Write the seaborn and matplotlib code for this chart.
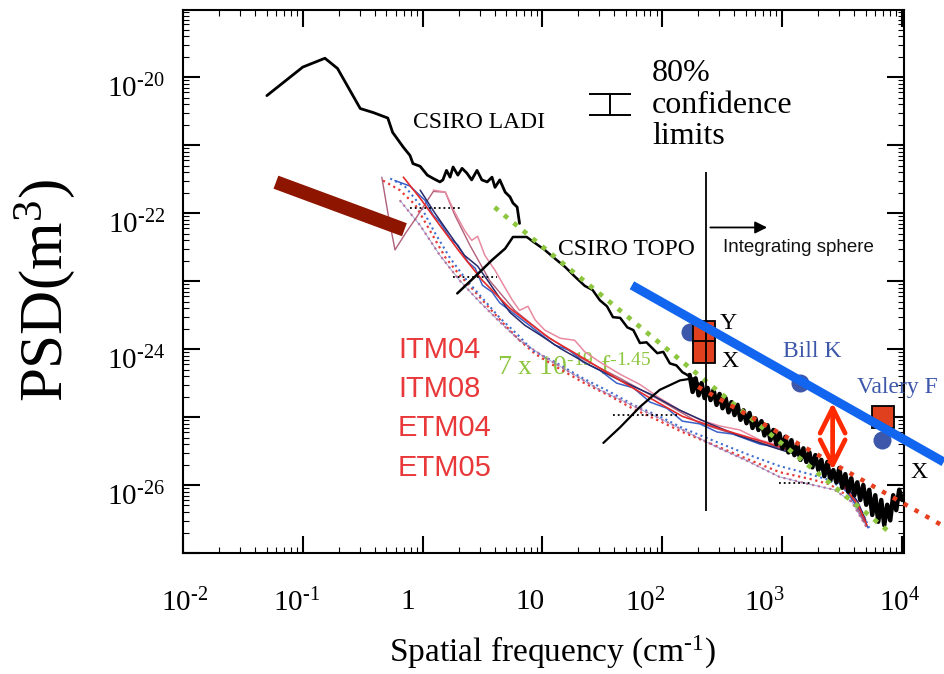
import numpy as np
import matplotlib
matplotlib.use("Agg")
import matplotlib.pyplot as plt
from matplotlib.ticker import FixedLocator, FixedFormatter, LogLocator, NullFormatter
from matplotlib.transforms import ScaledTranslation
import seaborn as sns

# ---------------------------------------------------------------------------
# Spectra, stored as log10(spatial frequency / cm^-1) and log10(PSD / m^3)
# ---------------------------------------------------------------------------
ladi_logf = [-1.30, -1.00, -0.815, -0.71, -0.52, -0.41, -0.29, -0.25, -0.16, -0.105,
             -0.08, -0.02, 0.04, 0.09, 0.145, 0.17, 0.20, 0.23, 0.255, 0.295,
             0.33, 0.37, 0.41, 0.455, 0.495, 0.54, 0.58, 0.605, 0.645, 0.69,
             0.73, 0.755, 0.79, 0.81]
ladi_logpsd = [-20.27, -19.85, -19.72, -19.87, -20.46, -20.52, -20.60, -20.81, -21.03, -21.15,
               -21.27, -21.31, -21.44, -21.49, -21.54, -21.51, -21.37, -21.47, -21.32, -21.44,
               -21.34, -21.41, -21.51, -21.37, -21.51, -21.54, -21.47, -21.62, -21.51, -21.69,
               -21.76, -21.85, -21.91, -22.15]

topo_logf = [0.29, 0.44, 0.58, 0.69, 0.755, 0.87, 0.94, 1.02, 1.10, 1.19,
             1.27, 1.355, 1.42, 1.48, 1.54, 1.59, 1.65, 1.71, 1.76, 1.815,
             1.87, 1.96, 2.01, 2.065, 2.12, 2.17, 2.23, 2.26]
topo_logpsd = [-23.18, -22.93, -22.69, -22.52, -22.35, -22.35, -22.44, -22.54, -22.66, -22.79,
               -22.93, -23.07, -23.13, -23.28, -23.37, -23.53, -23.54, -23.68, -23.72, -23.91,
               -23.90, -24.06, -24.04, -24.21, -24.24, -24.34, -24.40, -24.46]

sphere_logf = [2.23, 2.255, 2.28, 2.305, 2.33, 2.355, 2.38, 2.405, 2.43, 2.455,
               2.48, 2.505, 2.53, 2.555, 2.58, 2.605, 2.63, 2.655, 2.68, 2.705,
               2.73, 2.755, 2.78, 2.805, 2.83, 2.855, 2.88, 2.905, 2.93, 2.955,
               2.98, 3.005, 3.03, 3.055, 3.08, 3.105, 3.13, 3.155, 3.18, 3.205,
               3.23, 3.255, 3.28, 3.305, 3.33, 3.355, 3.38, 3.405, 3.43, 3.455,
               3.48, 3.505, 3.53, 3.555, 3.58, 3.605, 3.63, 3.655, 3.68, 3.705,
               3.73, 3.755, 3.78, 3.805, 3.83, 3.855, 3.88, 3.905, 3.93, 3.955,
               3.98, 4.005]
sphere_logpsd = [-24.38, -24.63, -24.43, -24.68, -24.50, -24.72, -24.57, -24.75, -24.60, -24.82,
                 -24.66, -24.87, -24.72, -24.93, -24.78, -24.97, -24.82, -25.04, -24.90, -25.09,
                 -24.94, -25.16, -25.02, -25.19, -25.06, -25.27, -25.12, -25.34, -25.19, -25.40,
                 -25.24, -25.46, -25.29, -25.52, -25.34, -25.56, -25.41, -25.63, -25.46, -25.66,
                 -25.52, -25.74, -25.56, -25.78, -25.63, -25.87, -25.66, -25.93, -25.78, -25.96,
                 -25.75, -26.04, -25.84, -26.10, -25.90, -26.15, -25.96, -26.22, -26.00, -26.29,
                 -26.07, -26.44, -26.15, -26.54, -26.22, -26.59, -26.29, -26.52, -26.15, -26.37,
                 -26.07, -26.22]

rise_logf = [1.51, 1.65, 1.815, 1.98, 2.15, 2.26, 2.315]
rise_logpsd = [-25.38, -25.15, -24.85, -24.60, -24.46, -24.43, -24.53]

# Mirror maps (ITM04, ITM08, ETM04, ETM05 scans)
mapA_logf = [-0.16, -0.02, 0.145, 0.31, 0.50, 0.73, 1.06, 1.34, 1.62, 1.90,
             2.17, 2.46, 2.82, 3.09, 3.38, 3.51, 3.635, 3.71]
mapA_logpsd = [-21.47, -21.78, -22.18, -22.57, -22.99, -23.40, -23.84, -24.13, -24.43, -24.72,
               -24.99, -25.16, -25.35, -25.50, -25.75, -26.00, -26.29, -26.59]

mapB_logf = [-0.23, -0.105, 0.02, 0.09, 0.145, 0.23, 0.295, 0.38, 0.44, 0.50,
             0.58, 0.645, 0.75, 0.855, 0.98, 1.105, 1.23, 1.34, 1.48, 1.62,
             1.76, 1.90, 2.04, 2.17, 2.315, 2.46, 2.59, 2.82, 2.98, 3.15,
             3.38, 3.53, 3.65, 3.72]
mapB_logpsd = [-21.52, -21.60, -21.81, -22.03, -22.13, -22.37, -22.47, -22.72, -22.81, -23.06,
               -23.16, -23.32, -23.46, -23.60, -23.77, -23.94, -24.02, -24.19, -24.31, -24.50,
               -24.57, -24.78, -24.87, -25.06, -25.10, -25.22, -25.25, -25.40, -25.44, -25.57,
               -25.79, -26.07, -26.37, -26.63]

mapC_logf = [0.09, 0.19, 0.27, 0.35, 0.41, 0.46, 0.52, 0.605, 0.69, 0.75,
             0.81, 0.88, 0.94, 1.02, 1.15, 1.27, 1.355, 1.48, 1.65, 1.815,
             1.98, 2.15, 2.315, 2.48, 2.65, 2.82, 3.07, 3.32, 3.485, 3.61, 3.70]
mapC_logpsd = [-21.66, -21.69, -21.99, -22.25, -22.40, -22.34, -22.62, -22.84, -23.10, -23.28,
               -23.43, -23.37, -23.57, -23.72, -23.84, -23.87, -24.04, -24.19, -24.37, -24.52,
               -24.72, -24.90, -25.04, -25.13, -25.19, -25.34, -25.46, -25.66, -25.93, -26.22, -26.52]

mapD_logf = [-0.34, -0.29, -0.23, -0.14, -0.05, 0.02, 0.09, 0.19, 0.27, 0.395,
             0.56, 0.77, 1.02, 1.31, 1.65, 1.98, 2.315, 2.65, 2.98, 3.235,
             3.44, 3.585, 3.685]
mapD_logpsd = [-21.47, -21.99, -22.54, -22.29, -22.06, -21.87, -21.68, -21.69, -22.03, -22.47,
               -22.99, -23.43, -23.79, -24.12, -24.43, -24.75, -25.09, -25.28, -25.46, -25.60,
               -25.87, -26.19, -26.54]

mapE_logf = [-0.33, -0.19, -0.06, 0.06, 0.19, 0.31, 0.44, 0.56, 0.69, 0.81,
             0.94, 1.105, 1.34, 1.565, 1.76, 1.98, 2.17, 2.46, 2.73, 2.98,
             3.235, 3.40, 3.55, 3.65, 3.72]
mapE_logpsd = [-21.52, -21.66, -21.88, -22.25, -22.65, -22.91, -23.16, -23.40, -23.65, -23.87,
               -24.07, -24.25, -24.49, -24.69, -24.88, -25.06, -25.22, -25.43, -25.63, -25.81,
               -25.91, -25.99, -26.16, -26.40, -26.66]

mapF_logf = [-0.27, -0.15, -0.02, 0.10, 0.23, 0.37, 0.50, 0.645, 0.79, 0.92,
             1.105, 1.34, 1.565, 1.76, 1.98, 2.17, 2.46, 2.73, 2.98, 3.235,
             3.40, 3.55, 3.67, 3.73]
mapF_logpsd = [-21.49, -21.60, -21.88, -22.28, -22.66, -22.99, -23.25, -23.54, -23.78, -24.02,
               -24.19, -24.43, -24.63, -24.82, -24.99, -25.16, -25.37, -25.56, -25.72, -25.84,
               -25.93, -26.10, -26.40, -26.63]

mapG_logf = [-0.19, -0.02, 0.145, 0.31, 0.48, 0.645, 0.81, 1.02, 1.23, 1.48,
             1.73, 1.98, 2.23, 2.48, 2.73, 2.98, 3.235, 3.44, 3.585, 3.70]
mapG_logpsd = [-21.81, -22.18, -22.62, -22.99, -23.31, -23.60, -23.87, -24.12, -24.34, -24.60,
               -24.81, -25.02, -25.24, -25.46, -25.66, -25.88, -25.99, -26.07, -26.25, -26.60]

mapH_logf = [-0.02, 0.10, 0.23, 0.35, 0.46, 0.56, 0.645, 0.73, 0.855, 0.98,
             1.15, 1.40, 1.65, 1.90, 2.15, 2.40, 2.65, 2.90, 3.15, 3.36,
             3.53, 3.635, 3.70]
mapH_logpsd = [-21.66, -21.99, -22.32, -22.62, -22.78, -23.03, -23.25, -23.46, -23.65, -23.79,
               -23.99, -24.24, -24.46, -24.66, -24.90, -25.10, -25.28, -25.43, -25.57, -25.74,
               -25.99, -26.25, -26.52]

# short dotted bars inside the map bundle: (log f start, log f end, log PSD)
bundle_bars = [(-0.105, 0.31, -21.93), (0.255, 0.62, -22.94), (1.59, 2.15, -24.97), (2.98, 3.235, -25.97)]

# Power-law guides
fit_amp, fit_exp, fit_f = 10 ** -21.04, -1.45, [4.0, 7950.0]
redline_amp, redline_exp, redline_f = 10 ** -22.255, -1.0, [200.0, 22500.0]
blue_f, blue_psd = [56.0, 22500.0], [8.7e-24, 2.18e-26]
bar_f, bar_psd = [0.0597, 0.706], [2.86e-22, 5.71e-23]

# Point measurements
dot_f = [171.0, 1413.0, 6840.0]
dot_psd = [1.78e-24, 3.16e-25, 4.58e-26]
square_f = [224.0, 224.0, 6970.0]
square_psd = [1.78e-24, 9.0e-25, 1.0e-25]

# Confidence bar and integrating-sphere boundary
conf_f, conf_lo, conf_hi = 36.7, 10 ** -20.56, 10 ** -20.25
sphere_edge_f = 232.0
gap_f, gap_lo, gap_hi = 2655.0, 1.66e-26, 1.62e-25

map_names = ["ITM04", "ITM08", "ETM04", "ETM05"]
xtick_vals = [1e-2, 1e-1, 1, 10, 1e2, 1e3, 1e4]
xtick_text = [r"$10^{\text{-}2}$", r"$10^{\text{-}1}$", "1", "10", "$10^{2}$", "$10^{3}$", "$10^{4}$"]
ytick_vals = [10.0 ** k for k in range(-27, -18)]
ytick_text = ["", r"$10^{\text{-}26}$", "", r"$10^{\text{-}24}$", "", r"$10^{\text{-}22}$", "",
              r"$10^{\text{-}20}$", ""]

# ---------------------------------------------------------------------------
sns.set_theme(style="ticks")
plt.rcParams["font.family"] = ["Liberation Serif", "DejaVu Serif"]
plt.rcParams["mathtext.fontset"] = "custom"
plt.rcParams["mathtext.rm"] = "Liberation Serif"
plt.rcParams["mathtext.it"] = "Liberation Serif:italic"
plt.rcParams["mathtext.bf"] = "Liberation Serif:bold"
plt.rcParams["text.color"] = "black"
plt.rcParams["axes.labelcolor"] = "black"
plt.rcParams["xtick.color"] = "black"
plt.rcParams["ytick.color"] = "black"

fig = plt.figure(figsize=(9.44, 6.74), dpi=100)
fig.patch.set_facecolor("white")
ax = fig.add_axes([0.19386, 0.17953, 0.76377, 0.80564])
ax.set_facecolor("white")
ax.set_xscale("log")
ax.set_yscale("log")
ax.set_xlim(1e-2, 10 ** 4.02)
ax.set_ylim(1e-27, 10 ** -19.01)


def trace(logf, logpsd, **kw):
    sns.lineplot(x=10 ** np.asarray(logf), y=10 ** np.asarray(logpsd), ax=ax,
                 sort=False, estimator=None, legend=False, **kw)


# measured spectra (black)
trace(ladi_logf, ladi_logpsd, color="black", linewidth=2.0, zorder=3)
trace(topo_logf, topo_logpsd, color="black", linewidth=1.8, zorder=3)
trace(rise_logf, rise_logpsd, color="black", linewidth=1.6, zorder=3)
trace(sphere_logf, sphere_logpsd, color="black", linewidth=3.2, zorder=3)

# mirror map bundle
trace(mapE_logf, mapE_logpsd, color="#e53935", linewidth=1.6, linestyle=":", zorder=2)
trace(mapF_logf, mapF_logpsd, color="#3f6fd0", linewidth=1.5, linestyle=":", zorder=2)
trace(mapG_logf, mapG_logpsd, color="#e0708a", linewidth=1.6, linestyle=":", zorder=2)
trace(mapG_logf, mapG_logpsd, color="#6a78c8", linewidth=0.6, alpha=0.7, zorder=2)
trace(mapD_logf, mapD_logpsd, color="#b0607a", linewidth=1.0, zorder=2)
trace(mapC_logf, mapC_logpsd, color="#e88aa0", linewidth=1.1, zorder=2)
trace(mapB_logf, mapB_logpsd, color="#3a62c8", linewidth=1.1, zorder=2)
trace(mapH_logf, mapH_logpsd, color="#262a6a", linewidth=1.1, zorder=2)
trace(mapA_logf, mapA_logpsd, color="#e42a2a", linewidth=1.2, zorder=2)
for f0, f1, lp in bundle_bars:
    ax.hlines(10 ** lp, 10 ** f0, 10 ** f1, colors="black", linestyles=":", linewidth=1.3, zorder=2)

# power-law guides
fit_f = np.asarray(fit_f)
trace(np.log10(fit_f), np.log10(fit_amp * fit_f ** fit_exp),
      color="#8dc63f", linewidth=3.4, linestyle=(0, (1, 1.6)), zorder=4)
redline_f = np.asarray(redline_f)
sns.lineplot(x=redline_f, y=redline_amp * redline_f ** redline_exp, ax=ax, sort=False,
             estimator=None, legend=False, color="#e8401f", linewidth=3.2,
             linestyle=(0, (1, 1.8)), clip_on=False, zorder=5)
sns.lineplot(x=bar_f, y=bar_psd, ax=ax, sort=False, estimator=None, legend=False,
             color="#8e1600", linewidth=10, solid_capstyle="butt", zorder=6)

# point measurements
ax.plot(dot_f, dot_psd, linestyle="none", marker="o", markersize=13,
        markerfacecolor="#3d58aa", markeredgecolor="none", zorder=6)
ax.plot(square_f, square_psd, linestyle="none", marker="s", markersize=15.5,
        markerfacecolor="#e0401e", markeredgecolor="black", markeredgewidth=1.3, zorder=7)

# integrating sphere boundary
ax.vlines(sphere_edge_f, 10 ** -26.38, 10 ** -21.40, colors="black", linewidth=1.3, zorder=8)
ax.annotate("", xy=(10 ** 2.90, 10 ** -22.21), xytext=(10 ** 2.38, 10 ** -22.21),
            arrowprops=dict(arrowstyle="-|>", color="black", lw=1.3, mutation_scale=18))
ax.text(10 ** 2.51, 10 ** -22.50, "Integrating sphere", family=["Liberation Sans"],
        fontsize=13.5, color="#111111", ha="left", va="center")

# upper-bound line and gap arrow
sns.lineplot(x=blue_f, y=blue_psd, ax=ax, sort=False, estimator=None, legend=False,
             color="#1265ef", linewidth=6.5, solid_capstyle="butt", clip_on=False, zorder=9)
ax.annotate("", xy=(gap_f, gap_lo), xytext=(gap_f, gap_hi),
            arrowprops=dict(arrowstyle="<->,head_length=0.9,head_width=0.45",
                            color="#ff2a00", lw=3.4, mutation_scale=20,
                            shrinkA=0, shrinkB=0), zorder=9)

# confidence bar
conf_c = np.sqrt(conf_lo * conf_hi)
ax.errorbar([conf_f], [conf_c], yerr=[[conf_c - conf_lo], [conf_hi - conf_c]],
            fmt="none", ecolor="black", elinewidth=1.4, capsize=15, capthick=1.4, zorder=5)
ax.text(10 ** 1.915, 10 ** -20.41, "80%\nconfidence\nlimits", fontsize=23,
        ha="left", va="center", linespacing=1.12, color="black")

# labels inside the plot
ax.text(10 ** -0.08, 10 ** -20.66, "CSIRO LADI", fontsize=17, ha="left", va="center")
ax.text(10 ** 1.13, 10 ** -22.54, "CSIRO TOPO", fontsize=17, ha="left", va="center")
ax.text(10 ** 2.48, 10 ** -23.62, "Y", fontsize=17, ha="left", va="center")
ax.text(10 ** 2.50, 10 ** -24.18, "X", fontsize=17, ha="left", va="center")
ax.text(10 ** 4.07, 10 ** -25.82, "X", fontsize=17, ha="left", va="center", clip_on=False)
ax.text(10 ** 3.01, 10 ** -24.04, "Bill K", fontsize=17, ha="left", va="center", color="#3d58aa")
ax.text(10 ** 3.625, 10 ** -24.57, "Valery F", fontsize=17, ha="left", va="center", color="#3d58aa")
ax.text(10 ** 0.62, 10 ** -24.27, r"7 x 10$^{\text{-}19}$ f$^{\text{-}1.45}$", fontsize=20,
        ha="left", va="center", color="#8dc63f", zorder=1)
for i, name in enumerate(map_names):
    ax.annotate(name, xy=(10 ** -0.205, 10 ** -24.015), xytext=(0, -28.2 * i),
                textcoords="offset points", family=["Liberation Sans"], fontsize=21,
                color="#e8383a", ha="left", va="center")

# axes styling
for side in ["left", "right", "top", "bottom"]:
    ax.spines[side].set_visible(True)
    ax.spines[side].set_color("black")
    ax.spines[side].set_linewidth(1.5)

ax.xaxis.set_major_locator(FixedLocator(xtick_vals))
ax.xaxis.set_major_formatter(FixedFormatter(xtick_text))
ax.xaxis.set_minor_locator(LogLocator(base=10, subs=np.arange(2, 10)))
ax.xaxis.set_minor_formatter(NullFormatter())
ax.yaxis.set_major_locator(FixedLocator(ytick_vals))
ax.yaxis.set_major_formatter(FixedFormatter(ytick_text))
ax.yaxis.set_minor_locator(LogLocator(base=10, subs=np.arange(2, 10)))
ax.yaxis.set_minor_formatter(NullFormatter())
ax.tick_params(which="major", direction="in", length=12, width=1.5, top=True, right=True,
               labelsize=21, colors="black")
ax.tick_params(axis="x", which="major", pad=26)
ax.tick_params(axis="y", which="major", pad=13)
ax.tick_params(which="minor", direction="in", length=4, width=0.8, top=True, right=True)

xshift_px = [2, -6, -15, -12, -17, -17, -2]
for lbl, dx in zip(ax.get_xticklabels(), xshift_px):
    lbl.set_transform(lbl.get_transform() + ScaledTranslation(dx / 100, 0, fig.dpi_scale_trans))
for lbl in ax.get_yticklabels():
    lbl.set_transform(lbl.get_transform() + ScaledTranslation(0, -9 / 100, fig.dpi_scale_trans))

fig.text(45 / 944, 1 - 291 / 674, "PSD(m$^{3}$)", rotation=90, fontsize=44,
         ha="center", va="center", color="black")
fig.text(552 / 944, 1 - 652 / 674, r"Spatial frequency (cm$^{\text{-}1}$)", fontsize=24,
         ha="center", va="center", color="black")

fig.savefig("out.png", dpi=100, facecolor="white")
